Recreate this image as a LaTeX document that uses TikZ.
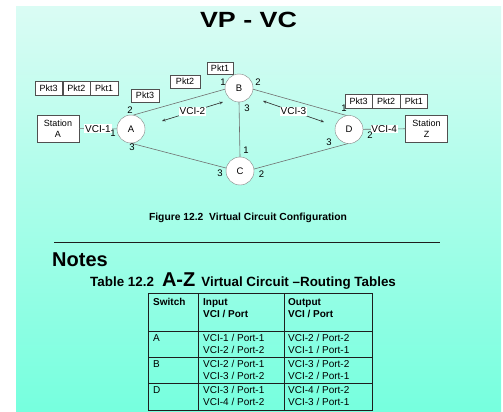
\documentclass[tikz,border=0pt]{standalone}
\usepackage{fontspec}
\setmainfont{Liberation Sans}
\usepackage{graphicx}
\usetikzlibrary{arrows.meta,positioning}
\definecolor{vcbgtop}{RGB}{218,252,244}
\definecolor{vcbgbot}{RGB}{118,255,222}
\definecolor{vclink}{RGB}{112,112,112}
\definecolor{vcbox}{RGB}{80,80,80}
\definecolor{vcring}{RGB}{130,130,130}
\definecolor{vcgrid}{RGB}{30,30,30}

\begin{document}
\begin{tikzpicture}[
  x=1pt, y=-1pt,
  switchnode/.style={circle, draw=vcring, fill=white, minimum size=28pt, inner sep=0pt, font=\fontsize{9.5}{10}\selectfont},
  station/.style={draw=vcbox, fill=white, minimum width=42pt, minimum height=27pt, inner sep=0pt, align=center, font=\fontsize{9}{10.5}\selectfont},
  pkt/.style={draw=vcbox, fill=white, minimum width=27.3pt, minimum height=13.5pt, inner sep=0pt, font=\fontsize{9}{10}\selectfont},
  link/.style={draw=vclink, line width=0.6pt},
  flow/.style={{Stealth[length=3.5pt,width=2.8pt]}-{Stealth[length=3.5pt,width=2.8pt]}, line width=0.65pt, draw=black!80},
  vcilabel/.style={fill=white, inner sep=0.8pt, font=\fontsize{10}{10}\selectfont},
  port/.style={inner sep=0pt, font=\fontsize{9.5}{10}\selectfont},
  grid/.style={draw=vcgrid, line width=0.8pt},
  cell/.style={anchor=base west, inner sep=0pt, font=\fontsize{10}{12}\selectfont},
  headcell/.style={cell, font=\bfseries\fontsize{10}{12}\selectfont}
]
\useasboundingbox (0,0) rectangle (503,412);
\fill[white] (0,0) rectangle (503,412);
\shade[top color=vcbgtop, bottom color=vcbgbot] (16,7) rectangle (501,412);

\node[anchor=base, inner sep=0pt, font=\bfseries\fontsize{22}{22}\selectfont] (title) at (248.5,28) {\scalebox{1.22}[1]{VP - VC}};

% switches and stations
\node[switchnode] (swA) at (131,129) {A};
\node[switchnode] (swB) at (239,88) {B};
\node[switchnode] (swC) at (240,171) {C};
\node[switchnode] (swD) at (349,129.5) {D};
\node[station] (sta) at (58,128.5) {Station\\A};
\node[station] (stz) at (426.5,128.5) {Station\\Z};

% packets
\node[pkt] (lq3) at (48.7,88) {Pkt3};
\node[pkt, right=0pt of lq3] (lq2) {Pkt2};
\node[pkt, right=0pt of lq2] (lq1) {Pkt1};
\node[pkt] (rq3) at (358.5,101) {Pkt3};
\node[pkt, right=0pt of rq3] (rq2) {Pkt2};
\node[pkt, right=0pt of rq2] (rq1) {Pkt1};
\node[pkt, minimum width=28pt, minimum height=13pt] (ma3) at (145,95.5) {Pkt3};
\node[pkt, minimum width=30pt, minimum height=13pt] (ma2) at (185,81.5) {Pkt2};
\node[pkt, minimum width=26pt, minimum height=12pt] (ma1) at (220,68) {Pkt1};

% links
\draw[link] (sta) -- node[vcilabel] (vci1) {VCI-1} (swA);
\draw[link] (swD) -- node[vcilabel] (vci4) {VCI-4} (stz);
\draw[link] (swA.80) -- (swB.185);
\draw[link] (swA.south) -- (swC.168);
\draw[link] (swB.south) -- (swC.north);
\draw[link] (swB.355) -- (swD.100);
\draw[link] (swC.8) -- (swD.265);

% virtual circuits
\coordinate (v2s) at (162,121);
\coordinate (v2e) at (223,102);
\coordinate (v3s) at (263,101);
\coordinate (v3e) at (324,122);
\draw[flow] (v2s) -- node[vcilabel] (vci2) {VCI-2} (v2e);
\draw[flow] (v3s) -- node[vcilabel] (vci3) {VCI-3} (v3e);

% ports
\node[port] (pA2) at (130,110) {2};
\node[port] (pA1) at (113,133) {1};
\node[port] (pA3) at (132,147) {3};
\node[port] (pB1) at (223,82) {1};
\node[port] (pB2) at (258,82) {2};
\node[port] (pB3) at (247,108) {3};
\node[port] (pC1) at (246,150.5) {1};
\node[port] (pC3) at (220,173) {3};
\node[port] (pC2) at (261.5,174) {2};
\node[port] (pD1) at (344,108) {1};
\node[port] (pD2) at (370,135) {2};
\node[port] (pD3) at (329,142) {3};

\node[anchor=base, inner sep=0pt, font=\bfseries\fontsize{10.3}{12}\selectfont] (caption) at (248,220) {Figure 12.2\ \ Virtual Circuit Configuration};
\draw[line width=0.9pt, draw=vcgrid] (54,242) -- (440,242);

\node[anchor=base west, inner sep=0pt, font=\bfseries\fontsize{20}{20}\selectfont] (notes) at (52,266) {Notes};
\node[anchor=base west, inner sep=0pt, font=\bfseries\fontsize{13.4}{14}\selectfont] (tabtitle) at (90,286)
  {Table 12.2\hspace{8pt}{\fontsize{20}{20}\selectfont A-Z}\hspace{6pt}Virtual Circuit –Routing Tables};

% routing table
\draw[grid] (148,293) rectangle (372,410);
\draw[grid] (198,293) -- (198,410);
\draw[grid] (284,293) -- (284,410);
\draw[grid] (148,331) -- (372,331);
\draw[grid] (148,357) -- (372,357);
\draw[grid] (148,383) -- (372,383);

\node[headcell] (hsw) at (153,305.5) {Switch};
\node[headcell] (hin) at (203,305.5) {Input};
\node[headcell] (hinsub) at (203,317.5) {VCI / Port};
\node[headcell] (hout) at (288,305.5) {Output};
\node[headcell] (houtsub) at (288,317.5) {VCI / Port};

\node[cell] (rA) at (153,341.5) {A};
\node[cell] (rAi1) at (203,341.5) {VCI-1 / Port-1};
\node[cell] (rAi2) at (203,353.5) {VCI-2 / Port-2};
\node[cell] (rAo1) at (288,341.5) {VCI-2 / Port-2};
\node[cell] (rAo2) at (288,353.5) {VCI-1 / Port-1};

\node[cell] (rB) at (153,367.5) {B};
\node[cell] (rBi1) at (203,367.5) {VCI-2 / Port-1};
\node[cell] (rBi2) at (203,379.5) {VCI-3 / Port-2};
\node[cell] (rBo1) at (288,367.5) {VCI-3 / Port-2};
\node[cell] (rBo2) at (288,379.5) {VCI-2 / Port-1};

\node[cell] (rD) at (153,393.5) {D};
\node[cell] (rDi1) at (203,393.5) {VCI-3 / Port-1};
\node[cell] (rDi2) at (203,405.5) {VCI-4 / Port-2};
\node[cell] (rDo1) at (288,393.5) {VCI-4 / Port-2};
\node[cell] (rDo2) at (288,405.5) {VCI-3 / Port-1};
\end{tikzpicture}
\end{document}
